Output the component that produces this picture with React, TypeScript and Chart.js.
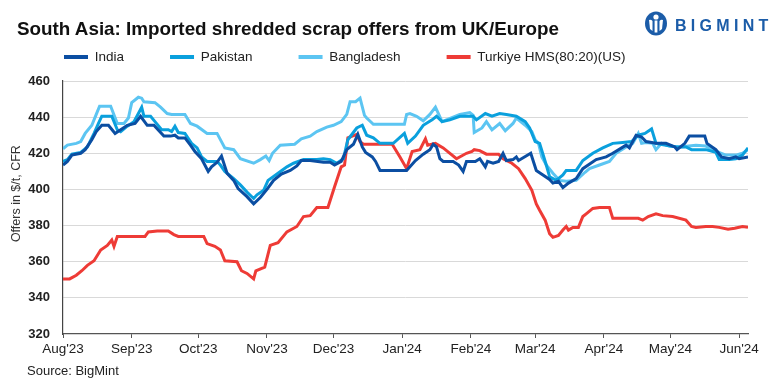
import React, { useEffect, useRef } from 'react';
import { Chart, registerables } from 'chart.js';

Chart.register(...registerables);

const FONT = "'Liberation Sans', Arial, Helvetica, sans-serif";

const titleText = 'South Asia: Imported shredded scrap offers from UK/Europe';
const yAxisTitle = 'Offers in $/t, CFR';
const sourceText = 'Source: BigMint';

// x = days since 1 Aug 2023
const monthTickDays = [0, 31, 61, 92, 122, 153, 184, 213, 244, 274, 305];
const monthTickLabels = ["Aug'23", "Sep'23", "Oct'23", "Nov'23", "Dec'23", "Jan'24", "Feb'24", "Mar'24", "Apr'24", "May'24", "Jun'24"];
const lastDay = 309;

const yMin = 320;
const yMax = 460;
const yStep = 20;

const seriesLabels = ['India', 'Pakistan', 'Bangladesh', 'Turkiye HMS(80:20)(US)'];
const seriesColors = ['#0B4EA2', '#0AA0DD', '#5CC5F2', '#EE3B36'];

const indiaDays = [0,2,4,8,10,13,15,17.5,20.5,23.5,26,29,32.5,35,38,41,45.5,48.5,50.5,52,55,57.5,59.5,62.5,65.5,67,69.5,71.5,74,77,79,83,86,89,92,95,98.5,102.5,105.5,107.5,111.5,117.5,120.5,122.5,125.5,128,131,133,135,136.5,139.5,141,143,155,159,162.5,165.5,167,168.5,170,171.5,176,178.5,180.5,182,186,188,190.5,191.5,194,196.5,198.5,200,203,204.5,205.5,211,213.5,216.5,219.5,221,223.5,225.5,228,231.5,234.5,240.5,245,248,254,255.5,258.5,261,263,267.5,272,276,277,280.5,282.5,289.5,290.5,294.5,297,300.5,303.5,305,309];
const indiaValues = [413.5,415.5,419,420,422,427.5,432,435.5,435.5,431,433,435.5,436.5,440.5,435.5,435.5,429.5,429.5,430,428.5,428.5,424.5,421,417,410,412.5,415,418.5,409,405,400.5,396,392,395.5,400,405,408.5,410.5,413,416,416,415,415,413.5,415.5,422,425,430.5,423.5,420.5,418,415.5,410.5,410.5,416,419.5,422,425,423.5,417,415.5,415.5,413.5,410,415.5,415.5,417,412.5,415.5,414.5,415.5,420,416,416.5,418,416,420,410.5,408,405.5,403.5,404.5,401,403.5,406,411.5,416.5,418,420,424.5,423,430,429,426.5,425.5,425.5,423.5,422,425.5,429.5,429.5,425.5,422,418,417,418,417,418];

const pakistanDays = [0,2,4,8,11,14,16,17.5,22,24.5,26,29,32,34,35.5,36.5,39.5,41.5,44.5,47.5,49,50.5,52,55,58,60.5,62.5,65,69.5,71,73,77,80,83,86,87.5,90.5,92.5,97,101,104,108.5,114.5,117.5,120.5,123.5,126.5,128.5,132.5,135,137,140,143,149,154,155.5,159,162.5,166.5,168.5,171,174.5,179,185,186.5,190.5,193.5,197,200,204.5,208.5,210.5,213,215,218,219.5,222.5,225.5,227,231.5,234.5,239,243.5,248,252.5,256.5,259.5,262.5,265.5,267.5,272,276.5,281,283.5,290,294.5,296,300.5,303.5,306.5,309];
const pakistanValues = [415.5,416.5,419.5,420.5,423.5,431,436.5,440.5,440.5,433,432,435,437.5,442,445.5,440.5,440.5,437.5,433,433,432,435,431.5,431,425.5,423,418,415.5,415.5,413.5,410,406,402.5,398.5,395,397,399.5,405,409,412.5,414.5,416.5,416.5,417,416.5,414.5,417,427.5,434,435.5,430,428.5,425.5,425.5,431,425.5,429.5,435.5,438.5,440.5,437.5,438.5,440.5,440.5,438.5,442,440.5,442,441.5,440.5,437.5,434,426.5,425.5,413.5,407,405,408,410.5,410.5,416,420,423,425.5,426,426.5,430,431,433.5,425.5,424.5,423.5,423.5,422,422,420.5,416.5,416.5,417,419,423];

const bangladeshDays = [0,2,6,8,10,13,15,16.5,21.5,24.5,27.5,29.5,31,34,35.5,36.5,41.5,44,47,49,55,57.5,60.5,65,69.5,73,77,80,86,89,91.5,93,94.5,98,104.5,107.5,111.5,114.5,119,122,125.5,128,129.5,132,134,136,137,140,154,155,156.5,159.5,162.5,165.5,168,171,176,179,183.5,185,185.5,189,191,193.5,197,199.5,203,204.5,208.5,211.5,213,214.5,216,218,221,224,227,231.5,235.5,237.5,242,246.5,249.5,254,257,259.5,261,263,266,267.5,270,273.5,278,285.5,290,293,297,299,303.5,306.5,309];
const bangladeshValues = [422.5,424.5,425.5,426.5,431,435.5,441.5,446,446,436.5,436.5,439.5,448,451,450.5,448.5,448,445.5,442,441.5,441.5,436.5,435,431,431,423,422,417,414.5,416.5,418.5,416,420,424.5,425,428,429.5,432,434.5,435.5,437.5,441.5,448.5,448.5,450.5,441,439.5,436,436,441.5,442,440.5,438,441.5,445.5,437.5,440,441.5,442.5,441,431.5,434,437.5,433,436.5,432.5,436.5,439.5,435.5,432,427.5,425.5,418,413.5,409,405,404.5,405,409.5,411.5,413.5,415.5,420,423.5,425.5,431,425.5,426,425.5,422,425.5,424,423.5,424.5,424,422,420,419,419,420,422];

const turkiyeDays = [0,3,6,8.5,11,14,17,20,22,23,24.5,37,38.5,42.5,47.5,50,52,63.5,65,68.5,71,73,78.5,80.5,83,86,87,91,93.5,97,101,105.5,108.5,111.5,114.5,119.5,122.5,125.5,127,128.5,132.5,134,135.5,148.5,152,155,157.5,161,163.5,164.5,168,171.5,177.5,182,184.5,185.5,188,191,196.5,198.5,202.5,205.5,208.5,211.5,213.5,215,217.5,219.5,221,223.5,225.5,227,228,230,232.5,234.5,236,239,242,246.5,248,259.5,261.5,264,267.5,270.5,275,281,283.5,285.5,290,293,296,300,303,306.5,309];
const turkiyeValues = [350.5,350.5,352.5,355,358,360.5,366.5,369,372,368.5,374,374,376.5,377,377,375,374,374,370,368.5,366.5,360.5,360,355,353.5,350.5,355,357,369,370.5,376.5,379.5,385,385.5,390,390,401.5,412.5,413.5,428.5,430.5,426.5,425,425,418,411.5,421,422,428,424.5,425.5,423,417,420,421,422,421.5,419.5,419.5,417,414.5,411.5,406,399.5,392,388.5,383,375.5,373.5,374.5,377.5,379.5,377.5,379,379,385,386.5,389.5,390,390,384,384,383,385,386.5,385.5,385,383,379.5,379,379.5,379.5,379,378,378.5,379.5,379];

const seriesDays = [indiaDays, pakistanDays, bangladeshDays, turkiyeDays];
const seriesValues = [indiaValues, pakistanValues, bangladeshValues, turkiyeValues];

const legendSpacer = {
  id: 'legendSpacer',
  beforeLayout(chart: any) {
    const lg = chart.legend;
    if (lg && !lg.__spaced) {
      const orig = lg.fit;
      lg.fit = function () {
        orig.call(this);
        this.height += 7.25;
      };
      lg.__spaced = true;
    }
  },
};

export default function App() {
  const canvasRef = useRef<HTMLCanvasElement | null>(null);
  const titleRef = useRef<HTMLDivElement | null>(null);

  useEffect(() => {
    const t = titleRef.current;
    if (t) {
      const w = t.getBoundingClientRect().width;
      if (w > 0) t.style.transform = `scaleX(${542 / w})`;
    }
  }, []);

  useEffect(() => {
    if (!canvasRef.current) return;
    const datasets = seriesLabels.map((label, i) => ({
      label,
      data: seriesDays[i].map((d, j) => ({ x: d, y: seriesValues[i][j] })),
      borderColor: seriesColors[i],
      backgroundColor: seriesColors[i],
      borderWidth: 3,
      pointRadius: 0,
      tension: 0,
      fill: false,
    }));

    const chart = new Chart(canvasRef.current, {
      type: 'line',
      data: { datasets },
      plugins: [legendSpacer],
      options: {
        animation: false,
        responsive: false,
        maintainAspectRatio: false,
        layout: { padding: { left: 18, top: 4.25, right: 25, bottom: 0 } },
        plugins: {
          tooltip: { enabled: false },
          title: { display: false },
          legend: {
            display: true,
            position: 'top',
            align: 'start',
            labels: {
              boxWidth: 24,
              boxHeight: 4,
              padding: 46,
              color: '#222',
              font: { family: FONT, size: 13.5 },
              generateLabels: (c: any) =>
                (Chart.defaults.plugins.legend.labels.generateLabels as any)(c).map((it: any) => ({
                  ...it,
                  lineWidth: 0,
                  fillStyle: it.strokeStyle,
                })),
            },
          },
        },
        scales: {
          x: {
            type: 'linear',
            min: 0,
            max: lastDay,
            afterBuildTicks: (s: any) => {
              s.ticks = monthTickDays.map((v) => ({ value: v }));
            },
            afterFit: (s: any) => {
              s.height = 50;
            },
            ticks: {
              autoSkip: false,
              maxRotation: 0,
              minRotation: 0,
              padding: 3,
              color: '#222',
              font: { family: FONT, size: 13.5 },
              callback: (v: any) => {
                const i = monthTickDays.indexOf(Number(v));
                return i >= 0 ? monthTickLabels[i] : '';
              },
            },
            grid: { drawOnChartArea: false, drawTicks: true, tickLength: 4, color: '#555' },
            border: { display: true, color: '#555', width: 1.2 },
          },
          y: {
            type: 'linear',
            min: yMin,
            max: yMax,
            afterFit: (s: any) => {
              s.width = 45;
            },
            ticks: {
              stepSize: yStep,
              padding: 13,
              color: '#222',
              font: { family: FONT, size: 13, weight: 'bold' },
            },
            grid: {
              drawTicks: false,
              color: (ctx: any) => (ctx.tick && ctx.tick.value === yMin ? 'rgba(0,0,0,0)' : '#d9d9d9'),
              lineWidth: 1,
            },
            border: { display: true, color: '#444', width: 1.2 },
            title: {
              display: true,
              text: '        ' + yAxisTitle,
              color: '#333',
              font: { family: FONT, size: 12.5 },
              padding: { top: -8.8, bottom: 0 },
            },
          },
        },
      } as any,
    });
    return () => chart.destroy();
  }, []);

  return (
    <div style={{ position: 'absolute', left: 0, top: 0, width: 773, height: 384, background: '#fff', overflow: 'hidden' }}>
      <canvas ref={canvasRef} width={773} height={384} style={{ position: 'absolute', left: 0, top: 0, width: 773, height: 384 }} />
      <div
        ref={titleRef}
        style={{
          position: 'absolute',
          left: 17,
          top: 19,
          fontFamily: FONT,
          fontWeight: 'bold',
          fontSize: 18.5,
          lineHeight: '20px',
          color: '#111',
          whiteSpace: 'nowrap',
          transformOrigin: '0 0',
        }}
      >
        {titleText}
      </div>
      <div style={{ position: 'absolute', left: 644, top: 11, width: 24, height: 25 }}>
        <svg width="24" height="25" viewBox="0 0 24 25">
          <ellipse cx="12" cy="12.5" rx="11" ry="12" fill="#1B5CA8" />
          <circle cx="12" cy="6" r="2.6" fill="#fff" />
          <rect x="10.6" y="9.5" width="2.8" height="12" fill="#fff" />
          <path d="M5 9 Q7 8 8.5 10 L8.5 20 L6 18 Z" fill="#fff" />
          <path d="M19 9 Q17 8 15.5 10 L15.5 20 L18 18 Z" fill="#fff" />
        </svg>
      </div>
      <div
        style={{
          position: 'absolute',
          left: 675,
          top: 17,
          fontFamily: FONT,
          fontWeight: 'bold',
          fontSize: 16,
          lineHeight: '18px',
          letterSpacing: 4.3,
          color: '#1B5CA8',
          whiteSpace: 'nowrap',
        }}
      >
        BIGMINT
      </div>
      <div
        style={{
          position: 'absolute',
          left: 27,
          top: 363,
          fontFamily: FONT,
          fontSize: 13,
          lineHeight: '15px',
          color: '#222',
          whiteSpace: 'nowrap',
        }}
      >
        {sourceText}
      </div>
    </div>
  );
}
